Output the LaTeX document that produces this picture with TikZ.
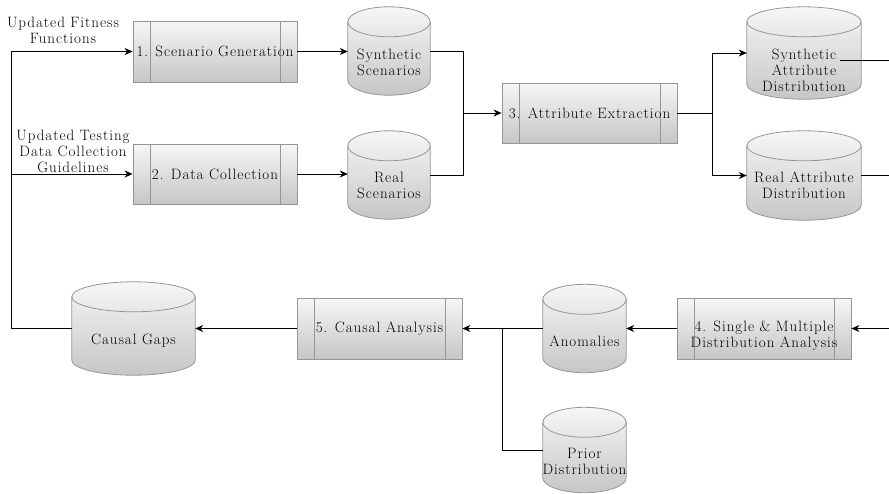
\documentclass[tikz,border=0pt]{standalone}
\usepackage{fontspec}
\usetikzlibrary{arrows.meta,calc}

\definecolor{edgegray}{RGB}{150,150,150}
\definecolor{shadetop}{RGB}{246,246,246}
\definecolor{shadebot}{RGB}{198,198,198}

\newfontfamily\diagramfont{Latin Modern Roman}[LetterSpace=6.5]

\tikzset{
  procbox/.style={rectangle, draw=edgegray, line width=0.8pt,
    top color=shadetop, bottom color=shadebot, inner sep=0pt, align=center,
    path picture={
      \draw[edgegray, line width=0.8pt]
        ([xshift=17pt]path picture bounding box.north west) -- ([xshift=17pt]path picture bounding box.south west)
        ([xshift=-17pt]path picture bounding box.north east) -- ([xshift=-17pt]path picture bounding box.south east);
    }},
  storeslot/.style={rectangle, inner sep=0pt, draw=none},
  storetext/.style={align=center, inner sep=0pt},
  note/.style={align=center, inner sep=0pt},
  wire/.style={line width=1pt},
  flow/.style={line width=1pt, -{Stealth[length=8pt,width=7pt,inset=2.5pt]}},
}

% cylinder (data store) drawn inside the box of a named node
\newcommand\drawstore[1]{%
  \path[draw=edgegray, line width=0.8pt, top color=shadetop, bottom color=shadebot]
    let \p1=(#1.north west), \p2=(#1.south east), \n1={(\x2-\x1)/2} in
    (\x1,\y1-15pt) -- (\x1,\y2+15pt)
    arc[start angle=180, end angle=360, x radius=\n1, y radius=15pt]
    -- (\x2,\y1-15pt)
    arc[start angle=0, end angle=180, x radius=\n1, y radius=15pt] -- cycle;
  \path[draw=edgegray, line width=0.8pt]
    let \p1=(#1.north west), \p2=(#1.south east), \n1={(\x2-\x1)/2} in
    (\x1,\y1-15pt) arc[start angle=180, end angle=360, x radius=\n1, y radius=15pt];
}

\begin{document}
\begin{tikzpicture}[x=1pt, y=-1pt,
  font=\diagramfont\fontsize{15}{16}\selectfont]
\useasboundingbox (0,0) rectangle (889,493);

% process steps
\node[procbox, minimum width=164pt, minimum height=61pt] (gen) at (215,51.5) {1. Scenario Generation};
\node[procbox, minimum width=164pt, minimum height=60pt] (col) at (215,174) {2. Data Collection};
\node[procbox, minimum width=175pt, minimum height=60pt] (attr) at (589.5,113) {3. Attribute Extraction};
\node[procbox, minimum width=174pt, minimum height=61pt] (dist) at (764,328.5) {};
\node[procbox, minimum width=165pt, minimum height=61pt] (causal) at (379.5,328.5) {5. Causal Analysis};
\node[storetext] (dist-t) at (764,336) {4. Single \& Multiple\\Distribution Analysis};

% data stores
\node[storeslot, minimum width=82pt, minimum height=88pt] (synsc) at (389,51) {};
\node[storeslot, minimum width=82pt, minimum height=88pt] (realsc) at (389,175) {};
\node[storeslot, minimum width=114pt, minimum height=92pt] (synattr) at (804,53) {};
\node[storeslot, minimum width=114pt, minimum height=89pt] (realattr) at (804,175.5) {};
\node[storeslot, minimum width=83pt, minimum height=88pt] (anom) at (584.5,328.5) {};
\node[storeslot, minimum width=83pt, minimum height=85pt] (prior) at (584.5,450) {};
\node[storeslot, minimum width=123pt, minimum height=93pt] (gaps) at (133.5,328.5) {};

\drawstore{synsc}
\drawstore{realsc}
\drawstore{synattr}
\drawstore{realattr}
\drawstore{anom}
\drawstore{prior}
\drawstore{gaps}

\node[storetext] (synsc-t) at (389,62) {Synthetic\\Scenarios};
\node[storetext] (realsc-t) at (389,185) {Real\\Scenarios};
\node[storetext] (synattr-t) at (804,70) {Synthetic\\Attribute\\Distribution};
\node[storetext] (realattr-t) at (804,185) {Real Attribute\\Distribution};
\node[storetext] (anom-t) at (584.5,341) {Anomalies};
\node[storetext] (prior-t) at (584.5,461) {Prior\\Distribution};
\node[storetext] (gaps-t) at (133.5,341) {Causal Gaps};

% feedback labels
\node[note] (fit-l) at (63,30) {Updated Fitness\\Functions};
\node[note] (guide-l) at (73,151) {Updated Testing\\Data Collection\\Guidelines};

% connectors
\coordinate (rim) at (889,0);
\coordinate (j1) at (463,113);
\coordinate (j2) at (712,113);
\coordinate (j3) at (502,328.5);
\coordinate (j4) at (11,51.5);
\coordinate (j5) at (11,174);
\coordinate (synattr-out) at (840,60);

\draw[flow] (gen.east) -- (gen.east -| synsc.west);
\draw[flow] (col.east) -- (col.east -| realsc.west);
\draw[wire] (synsc.east) -| (j1);
\draw[flow] (realsc.east) -| (j1) -- (attr.west);
\draw[flow] (attr.east) -- (j2) |- (synattr.west);
\draw[flow] (j2) |- (realattr.west);
\draw[wire] (synattr-out) -- (synattr-out -| rim);
\draw[wire] (realattr.east) -- (realattr.east -| rim);
\draw[flow] (dist.east -| rim) -- (dist.east);
\draw[flow] (dist.west) -- (anom.east);
\draw[flow] (anom.west) -- (j3) -- (causal.east);
\draw[wire] (prior.west) -| (j3);
\draw[flow] (causal.west) -- (gaps.east);
\draw[flow] (gaps.west) -| (j4) -- (gen.west);
\draw[flow] (j5) -- (col.west);
\end{tikzpicture}
\end{document}
